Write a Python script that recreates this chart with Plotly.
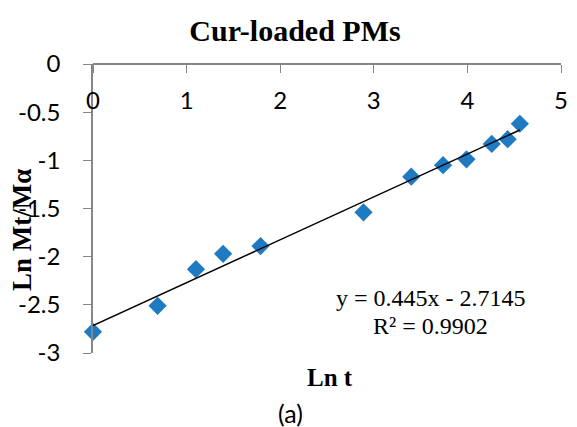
import plotly.graph_objects as go

# Data
ln_t = [0.0, 0.69, 1.10, 1.39, 1.79, 2.89, 3.40, 3.74, 3.99, 4.26, 4.43, 4.56]
ln_mt = [-2.78, -2.51, -2.13, -1.97, -1.89, -1.54, -1.17, -1.05, -0.99, -0.83, -0.78, -0.62]
slope = 0.445
intercept = -2.7145
r2 = 0.9902
x_ticks = [0, 1, 2, 3, 4, 5]
y_ticks = [0, -0.5, -1, -1.5, -2, -2.5, -3]
y_ticklabels = ["0", "-0.5", "-1", "-1.5", "-2", "-2.5", "-3"]

W, H = 577, 427
L, R, T, B = 93, 9, 64, 74
pw = W - L - R
ph = H - T - B

def px2paper_x(px):
    return (px - L) / pw

def px2paper_y(py):
    return (H - B - py) / ph

fit_x = [min(ln_t), max(ln_t)]
fit_y = [slope * v + intercept for v in fit_x]

serif = "Liberation Serif, Times New Roman, serif"
sans = "Lato, Calibri, sans-serif"

fig = go.Figure()
fig.add_trace(go.Scatter(
    x=ln_t, y=ln_mt, mode="markers",
    marker=dict(symbol="diamond", size=14, color="#1E7BC1"),
    cliponaxis=False, showlegend=False,
))
fig.add_trace(go.Scatter(
    x=fit_x, y=fit_y, mode="lines",
    line=dict(color="black", width=1.5),
    cliponaxis=False, showlegend=False,
))

fig.update_layout(
    width=W, height=H,
    margin=dict(l=L, r=R, t=T, b=B),
    paper_bgcolor="white", plot_bgcolor="white",
    title=dict(text="<b>Cur-loaded PMs</b>", font=dict(family=serif, size=30, color="black"),
               x=295 / W, xref="container", xanchor="center",
               y=1 - 30 / H, yref="container", yanchor="middle"),
    xaxis=dict(range=[0, 5], tickvals=x_ticks, ticktext=[str(v) for v in x_ticks],
               anchor="free", position=1, side="bottom",
               showline=True, linecolor="#868686", linewidth=1.5,
               ticks="outside", ticklen=8, tickcolor="#868686",
               showgrid=False, zeroline=False,
               ticklabelstandoff=7,
               tickfont=dict(family=sans, size=24, color="black")),
    yaxis=dict(range=[-3, 0], tickvals=y_ticks, ticktext=y_ticklabels,
               showline=True, linecolor="#868686", linewidth=1.5,
               ticks="outside", ticklen=8, tickcolor="#868686",
               showgrid=False, zeroline=False,
               ticklabelstandoff=18,
               tickfont=dict(family=sans, size=24, color="black")),
)

annos = [
    dict(text="<b>Ln Mt/Mα</b>", x=px2paper_x(21), y=px2paper_y(230), textangle=-90,
         font=dict(family=serif, size=27, color="black")),
    dict(text="<b>Ln t</b>", x=px2paper_x(334), y=px2paper_y(377),
         font=dict(family=serif, size=25, color="black")),
    dict(text="(a)", x=px2paper_x(293), y=px2paper_y(413),
         font=dict(family=sans, size=25, color="black")),
    dict(text=f"y = {slope}x - {abs(intercept)}", x=px2paper_x(436), y=px2paper_y(298),
         font=dict(family=serif, size=24, color="black")),
    dict(text=f"R² = {r2}", x=px2paper_x(436), y=px2paper_y(326),
         font=dict(family=serif, size=24, color="black")),
]
for a in annos:
    fig.add_annotation(xref="paper", yref="paper", showarrow=False,
                       xanchor="center", yanchor="middle", **a)

fig.write_html("out.html")
